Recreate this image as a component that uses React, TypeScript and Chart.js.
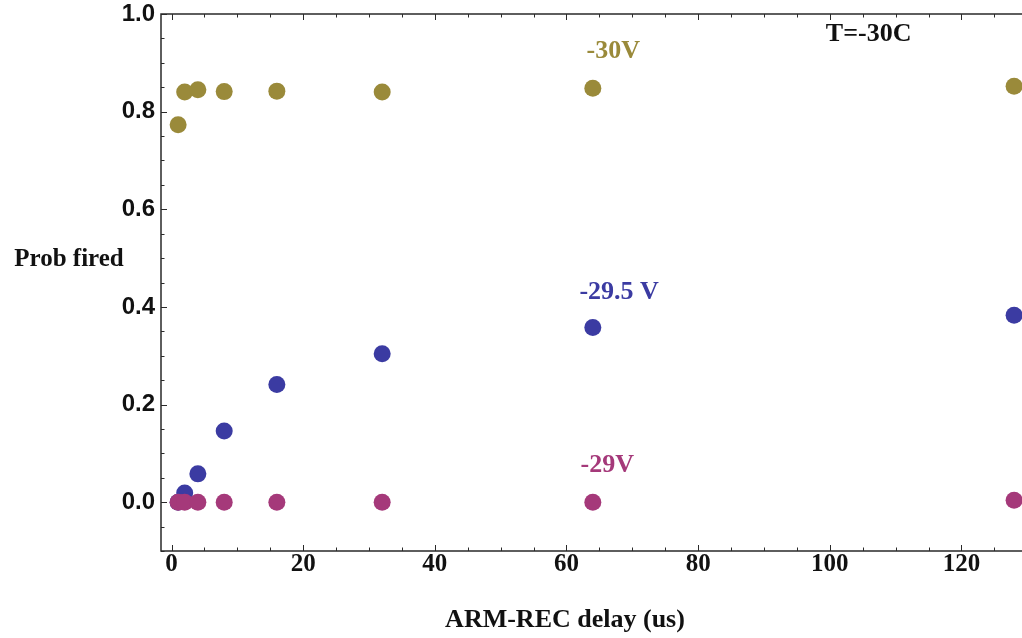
import React, { useEffect, useRef } from "react";
import { Chart, registerables } from "chart.js";

Chart.register(...registerables);

// ARM-REC delay in microseconds
const delays = [1, 2, 4, 8, 16, 32, 64, 128];

// Fraction of triggers that fired, one list per bias voltage
const fired30V = [0.773, 0.84, 0.845, 0.841, 0.842, 0.84, 0.848, 0.852];
const fired295V = [0.0, 0.019, 0.058, 0.146, 0.241, 0.304, 0.358, 0.383];
const fired29V = [0, 0, 0, 0, 0, 0, 0, 0.004];

const seriesNames = ["-29V", "-29.5 V", "-30V"];
const seriesColors = ["#a5397a", "#3b3ba2", "#9a8a3a"];

const xTickValues = [0, 20, 40, 60, 80, 100, 120];
const yTickValues = [0, 0.2, 0.4, 0.6, 0.8, 1.0];

const X_MIN = -1.6;
const X_MAX = 129.2;
const Y_MIN = -0.1;
const Y_MAX = 1.0;

// In-plot text: series labels and the temperature note, placed in data units
const notes = [
  { text: "-30V", x: 67.1, y: 0.923, color: seriesColors[2] },
  { text: "T=-30C", x: 105.9, y: 0.958, color: "#111111" },
  { text: "-29.5 V", x: 68.0, y: 0.429, color: seriesColors[1] },
  { text: "-29V", x: 66.2, y: 0.076, color: seriesColors[0] },
];

const SERIF = "'Liberation Serif', 'Times New Roman', serif";
const SANS = "'Liberation Sans', Arial, sans-serif";

// Frame on left/top/bottom with inward major and minor ticks
const framePlugin = {
  id: "frameTicks",
  beforeDatasetsDraw(chart: any) {
    const { ctx, chartArea: a, scales } = chart;
    const xs = scales.x;
    const ys = scales.y;
    ctx.save();
    ctx.strokeStyle = "#2a2a2a";
    ctx.lineWidth = 1.5;
    ctx.beginPath();
    ctx.moveTo(a.right, a.top);
    ctx.lineTo(a.left, a.top);
    ctx.lineTo(a.left, a.bottom);
    ctx.lineTo(a.right, a.bottom);
    ctx.stroke();

    ctx.lineWidth = 1;
    ctx.beginPath();
    for (let i = 0; i * 5 <= X_MAX; i++) {
      const v = i * 5;
      const px = Math.round(xs.getPixelForValue(v)) + 0.5;
      const len = v % 20 === 0 ? 6 : 3.5;
      ctx.moveTo(px, a.bottom);
      ctx.lineTo(px, a.bottom - len);
      ctx.moveTo(px, a.top);
      ctx.lineTo(px, a.top + len);
    }
    for (let i = -2; i * 0.05 <= Y_MAX + 1e-9; i++) {
      const v = i * 0.05;
      const py = Math.round(ys.getPixelForValue(v)) + 0.5;
      const major = Math.abs(v / 0.2 - Math.round(v / 0.2)) < 1e-6;
      const len = major ? 6 : 3.5;
      ctx.moveTo(a.left, py);
      ctx.lineTo(a.left + len, py);
    }
    ctx.stroke();
    ctx.restore();
  },
  afterDatasetsDraw(chart: any) {
    const { ctx, scales } = chart;
    ctx.save();
    ctx.textAlign = "center";
    ctx.textBaseline = "middle";
    ctx.font = `bold 26px ${SERIF}`;
    for (const n of notes) {
      ctx.fillStyle = n.color;
      ctx.fillText(n.text, scales.x.getPixelForValue(n.x), scales.y.getPixelForValue(n.y));
    }
    // Axis titles
    ctx.fillStyle = "#111111";
    ctx.font = `bold 25px ${SERIF}`;
    ctx.fillText("Prob fired", 69, 260);
    ctx.font = `bold 26px ${SERIF}`;
    ctx.fillText("ARM-REC delay (us)", 565, 620);
    ctx.restore();
  },
};

export default function App() {
  const canvasRef = useRef<HTMLCanvasElement | null>(null);

  useEffect(() => {
    const canvas = canvasRef.current;
    if (!canvas) return;
    const toPoints = (ys: number[]) => delays.map((d, i) => ({ x: d, y: ys[i] }));
    const seriesValues = [fired29V, fired295V, fired30V];

    const chart = new Chart(canvas, {
      type: "scatter",
      data: {
        datasets: seriesValues.map((vals, i) => ({
          label: seriesNames[i],
          data: toPoints(vals),
          backgroundColor: seriesColors[i],
          borderColor: seriesColors[i],
          borderWidth: 0,
          pointRadius: 8.5,
          pointHoverRadius: 8.5,
          clip: false,
        })),
      },
      options: {
        animation: false,
        responsive: false,
        maintainAspectRatio: false,
        devicePixelRatio: 1,
        layout: { autoPadding: false, padding: { top: 14, left: 0, right: 0, bottom: 0 } },
        plugins: {
          legend: { display: false },
          tooltip: { enabled: false },
        },
        scales: {
          x: {
            type: "linear",
            min: X_MIN,
            max: X_MAX,
            grid: { display: false, drawTicks: false },
            border: { display: false },
            afterBuildTicks: (s: any) => {
              s.ticks = xTickValues.map((value) => ({ value }));
            },
            afterFit: (s: any) => {
              s.height = 87;
              s.paddingLeft = 0;
              s.paddingRight = 0;
            },
            ticks: {
              autoSkip: false,
              maxRotation: 0,
              padding: 1,
              color: "#111111",
              font: { family: SERIF, size: 25, weight: "bold", lineHeight: 1 },
              callback: (v: any) => String(v),
            },
          },
          y: {
            type: "linear",
            min: Y_MIN,
            max: Y_MAX,
            grid: { display: false, drawTicks: false },
            border: { display: false },
            afterBuildTicks: (s: any) => {
              s.ticks = yTickValues.map((value) => ({ value }));
            },
            afterFit: (s: any) => {
              s.width = 161;
              s.paddingTop = 0;
              s.paddingBottom = 0;
            },
            ticks: {
              autoSkip: false,
              padding: 6,
              color: "#111111",
              font: { family: SANS, size: 24, weight: "bold", lineHeight: 1 },
              callback: (v: any) => Number(v).toFixed(1),
            },
          },
        },
      },
      plugins: [framePlugin],
    });

    return () => chart.destroy();
  }, []);

  return (
    <div
      style={{
        position: "absolute",
        left: 0,
        top: 0,
        width: 1022,
        height: 638,
        background: "#ffffff",
        overflow: "hidden",
      }}
    >
      <canvas ref={canvasRef} width={1022} height={638} style={{ display: "block" }} />
    </div>
  );
}
